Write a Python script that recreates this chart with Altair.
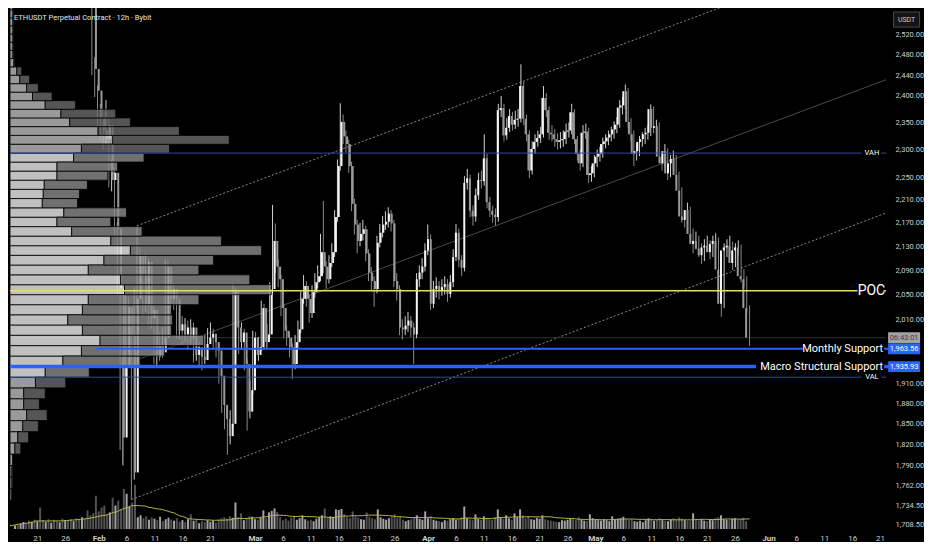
import altair as alt
import pandas as pd

FONT = "Roboto, 'Noto Sans', sans-serif"

# ---------------- values ----------------
START = "2026-01-17 00:00"      # open time of the first 12h bar (left edge of pane)
END = "2026-06-21 04:00"        # right edge of the price pane
FIRST_CANDLE = 28               # earlier bars trade above the visible price range
FIRST_OPEN = 2790
PRICE_MIN, PRICE_MAX = 1701.8, 2573.5
VOL_MAX = 5320
PROFILE_MAX = 895

closes = [
    2700, 2452, 2410, 2360, 2335, 2320, 2345, 2245, 2258, 2160,
    2060, 1830, 1935, 2030, 1985, 1780, 2043, 2115, 2083, 2032,
    2104, 2012, 2025, 1951, 1969, 1958, 1981, 2096, 2043, 2059,
    2043, 1992, 2002, 1986, 1997, 1981, 1997, 1954, 1966, 1951,
    1946, 1971, 1981, 1987, 1974, 1961, 1922, 1878, 1857, 1832,
    1850, 2056, 1997, 1974, 1989, 1940, 1868, 1900, 1981, 1954,
    1966, 2028, 1974, 1986, 2059, 2139, 2096, 2075, 2028, 1992,
    1981, 1966, 1940, 1974, 1994, 2043, 2064, 2043, 2020, 2054,
    2070, 2080, 2120, 2096, 2075, 2102, 2120, 2180, 2270, 2351,
    2324, 2310, 2270, 2203, 2167, 2139, 2151, 2159, 2118, 2086,
    2072, 2059, 2136, 2153, 2167, 2172, 2186, 2169, 2072, 2059,
    1997, 1994, 2000, 2008, 1997, 1986, 2075, 2086, 2096, 2123,
    2142, 2035, 2059, 2064, 2056, 2062, 2067, 2051, 2070, 2112,
    2153, 2107, 2094, 2240, 2248, 2191, 2181, 2218, 2245, 2243,
    2284, 2206, 2191, 2184, 2180, 2373, 2377, 2326, 2340, 2362,
    2346, 2355, 2357, 2419, 2357, 2328, 2262, 2301, 2314, 2321,
    2328, 2396, 2373, 2331, 2328, 2319, 2314, 2317, 2319, 2333,
    2335, 2369, 2319, 2292, 2275, 2331, 2333, 2254, 2257, 2275,
    2287, 2292, 2310, 2315, 2322, 2328, 2337, 2346, 2378, 2382,
    2409, 2351, 2328, 2292, 2297, 2314, 2319, 2328, 2331, 2375,
    2340, 2343, 2287, 2275, 2297, 2257, 2275, 2283, 2254, 2226,
    2181, 2175, 2192, 2151, 2134, 2139, 2126, 2115, 2128, 2131,
    2120, 2134, 2139, 2091, 2035, 2123, 2128, 2131, 2102, 2123,
    2128, 2080, 2075, 2028, 1981,
]
highs = [
    2810, 2715, 2475, 2420, 2385, 2352, 2392, 2360, 2282, 2266,
    2172, 2070, 1952, 2052, 2046, 1996, 2062, 2165, 2130, 2095,
    2118, 2110, 2045, 2033, 1985, 1990, 1998, 2108, 2105, 2080,
    2068, 2050, 2022, 2015, 2012, 2008, 2010, 2005, 1980, 1975,
    1962, 1985, 1996, 2005, 1995, 1985, 1968, 1930, 1890, 1868,
    1870, 2068, 2062, 2008, 2005, 1995, 1948, 1915, 1992, 1990,
    1982, 2040, 2035, 2002, 2070, 2201, 2169, 2108, 2082, 2035,
    2000, 1990, 1972, 1985, 2008, 2055, 2082, 2072, 2050, 2065,
    2085, 2098, 2151, 2208, 2105, 2115, 2135, 2192, 2282, 2386,
    2365, 2335, 2318, 2278, 2212, 2175, 2170, 2175, 2165, 2125,
    2095, 2080, 2148, 2168, 2182, 2190, 2197, 2192, 2175, 2085,
    2065, 2010, 2015, 2022, 2015, 2005, 2085, 2098, 2110, 2135,
    2167, 2150, 2072, 2078, 2072, 2075, 2080, 2075, 2082, 2125,
    2168, 2160, 2115, 2252, 2265, 2255, 2200, 2230, 2258, 2262,
    2328, 2292, 2215, 2200, 2195, 2385, 2400, 2385, 2358, 2375,
    2370, 2372, 2375, 2461, 2428, 2365, 2335, 2315, 2328, 2335,
    2342, 2419, 2405, 2380, 2345, 2338, 2330, 2332, 2335, 2348,
    2350, 2385, 2375, 2325, 2300, 2345, 2348, 2340, 2270, 2290,
    2300, 2305, 2322, 2328, 2335, 2342, 2352, 2360, 2392, 2398,
    2422, 2415, 2358, 2335, 2312, 2325, 2332, 2340, 2345, 2384,
    2380, 2355, 2350, 2295, 2310, 2302, 2290, 2298, 2290, 2260,
    2232, 2192, 2205, 2198, 2160, 2155, 2148, 2135, 2142, 2148,
    2140, 2148, 2152, 2145, 2098, 2135, 2142, 2148, 2138, 2135,
    2140, 2133, 2092, 2080, 2032,
]
lows = [
    2690, 2440, 2398, 2340, 2318, 2300, 2310, 2232, 2225, 2148,
    2048, 1812, 1790, 1918, 1958, 1742, 1770, 2030, 2065, 2015,
    2022, 1998, 1995, 1940, 1938, 1945, 1950, 1972, 2030, 2028,
    2025, 1980, 1978, 1970, 1975, 1962, 1970, 1942, 1945, 1938,
    1930, 1940, 1962, 1972, 1962, 1950, 1910, 1866, 1842, 1805,
    1820, 1845, 1985, 1955, 1962, 1930, 1840, 1858, 1895, 1942,
    1945, 1960, 1962, 1965, 1980, 2052, 2085, 2062, 2015, 1980,
    1968, 1950, 1917, 1932, 1965, 1988, 2035, 2030, 2005, 2012,
    2045, 2060, 2072, 2085, 2060, 2068, 2095, 2112, 2172, 2262,
    2310, 2295, 2258, 2190, 2150, 2118, 2130, 2140, 2105, 2072,
    2055, 2030, 2052, 2128, 2145, 2158, 2162, 2155, 2062, 2040,
    1985, 1978, 1985, 1990, 1982, 1940, 1980, 2062, 2075, 2088,
    2115, 2025, 2028, 2045, 2042, 2048, 2050, 2038, 2045, 2062,
    2105, 2095, 2080, 2088, 2228, 2180, 2165, 2172, 2210, 2230,
    2235, 2195, 2180, 2170, 2165, 2172, 2360, 2315, 2318, 2332,
    2335, 2338, 2342, 2350, 2345, 2315, 2248, 2255, 2292, 2305,
    2312, 2322, 2360, 2318, 2315, 2305, 2300, 2302, 2305, 2310,
    2322, 2328, 2310, 2280, 2262, 2268, 2320, 2240, 2242, 2250,
    2268, 2278, 2285, 2302, 2308, 2315, 2320, 2330, 2340, 2365,
    2375, 2340, 2315, 2270, 2280, 2288, 2305, 2310, 2318, 2325,
    2330, 2330, 2275, 2262, 2268, 2245, 2250, 2262, 2240, 2215,
    2170, 2162, 2168, 2140, 2118, 2125, 2112, 2100, 2105, 2120,
    2108, 2112, 2125, 2080, 2014, 2028, 2112, 2118, 2090, 2095,
    2115, 2070, 2062, 2020, 1968,
]
volume = [
    35, 40, 55, 70, 60, 85, 75, 95, 80, 220,
    90, 75, 100, 65, 95, 80, 70, 105, 90, 85,
    100, 80, 110, 95, 120, 105, 190, 140, 160, 340,
    180, 220, 240, 150, 170, 320, 240, 290, 200, 410,
    360, 230, 270, 450, 120, 140, 110, 130, 95, 120,
    105, 90, 125, 80, 100, 115, 95, 85, 110, 75,
    90, 70, 100, 150, 85, 95, 60, 80, 70, 90,
    75, 85, 65, 95, 110, 120, 105, 130, 115, 270,
    120, 160, 90, 110, 130, 125, 100, 95, 115, 190,
    110, 170, 185, 210, 175, 120, 90, 105, 85, 115,
    130, 95, 110, 140, 100, 85, 95, 80, 105, 120,
    140, 210, 110, 130, 125, 200, 195, 205, 150, 120,
    110, 180, 130, 115, 100, 95, 170, 125, 110, 100,
    200, 120, 105, 95, 110, 130, 150, 115, 125, 95,
    80, 90, 100, 115, 140, 105, 95, 180, 110, 130,
    95, 85, 80, 70, 90, 85, 100, 110, 95, 100,
    120, 230, 110, 100, 90, 150, 105, 95, 130, 110,
    100, 95, 120, 200, 115, 105, 140, 110, 95, 160,
    120, 200, 140, 110, 130, 100, 95, 115, 105, 140,
    100, 90, 85, 80, 75, 70, 90, 85, 95, 110,
    100, 90, 120, 95, 85, 80, 150, 110, 95, 90,
    85, 100, 90, 80, 130, 95, 105, 110, 125, 100,
    90, 95, 80, 75, 85, 70, 90, 110, 100, 85,
    95, 110, 90, 85, 80, 100, 110, 95, 120, 105,
    90, 85, 80, 160, 95, 90, 100, 85, 80, 95,
    90, 110, 120, 140, 100, 95, 90, 105, 110, 95,
    100, 115, 80,
]
early_up = [1, 0, 1, 1, 0, 0, 1, 0, 1, 0, 0, 1, 0, 1, 0, 0, 1, 0, 1, 0,
            0, 1, 0, 0, 1, 0, 0, 0]

# visible-range volume profile (price rows, up / total volume)
vp_edges = [
    1741.00, 1757.25, 1773.50, 1789.75, 1806.00, 1822.25, 1838.50, 1854.75,
    1871.00, 1887.25, 1903.50, 1919.75, 1936.00, 1952.25, 1968.50, 1984.75,
    2001.00, 2017.25, 2033.50, 2049.75, 2066.00, 2082.25, 2098.50, 2114.75,
    2131.00, 2147.25, 2163.50, 2179.75, 2196.00, 2212.25, 2228.50, 2244.75,
    2261.00, 2277.25, 2293.50, 2309.75, 2326.00, 2342.25, 2358.50, 2374.75,
    2391.00, 2407.25, 2423.50, 2439.75, 2456.00, 2472.25, 2488.50, 2504.75,
    2521.00, 2537.25, 2553.50, 2569.75, 2586.00,
]
vp_up = [2, 2, 2, 3, 5, 8, 13, 17, 14, 14, 26, 36, 54, 73, 92, 74, 59, 74, 80, 117,
         113, 80, 96, 123, 103, 63, 48, 55, 33, 34, 35, 48, 48, 65, 73, 105, 90, 61, 52, 36,
         23, 17, 10, 7, 4, 3, 3, 3, 3, 3, 3, 3]
vp_total = [2, 3, 3, 3, 11, 19, 29, 38, 30, 36, 57, 81, 133, 158, 198, 165, 166, 165, 193, 267,
            245, 193, 208, 257, 216, 135, 103, 119, 69, 71, 79, 100, 110, 137, 163, 224, 173, 123, 108, 67,
            43, 29, 20, 12, 5, 4, 4, 4, 4, 4, 4, 4]

VAL, VAH, POC = 1919.75, 2293.5, 2056.0
MONTHLY_SUPPORT, MACRO_SUPPORT = 1963.56, 1935.93

date_ticks = ["2026-01-21", "2026-01-26", "2026-02-01", "2026-02-06", "2026-02-11",
              "2026-02-16", "2026-02-21", "2026-03-01", "2026-03-06", "2026-03-11",
              "2026-03-16", "2026-03-21", "2026-03-26", "2026-04-01", "2026-04-06",
              "2026-04-11", "2026-04-16", "2026-04-21", "2026-04-26", "2026-05-01",
              "2026-05-06", "2026-05-11", "2026-05-16", "2026-05-21", "2026-05-26",
              "2026-06-01", "2026-06-06", "2026-06-11", "2026-06-16", "2026-06-21"]
price_ticks = [1708.5, 1734.5, 1762, 1790, 1820, 1850, 1880, 1910, 2010, 2050, 2090,
               2130, 2170, 2210, 2250, 2300, 2350, 2400, 2440, 2480, 2520]

# parallel channel (start point, end at the right edge)
channel_start = ["2026-02-08 12:00", "2026-02-09 01:00", "2026-02-07 12:00"]
channel_start_price = [2165, 1948, 1742]
channel_end_price = [2704, 2431, 2187]
channel_kind = ["outer", "mid", "outer"]


def ms(s):
    return int(pd.Timestamp(s, tz="UTC").value // 1_000_000)


times = pd.date_range(START, periods=len(volume), freq="12h", tz="UTC")
t_ms = [int(v // 1_000_000) for v in times.asi8]

opens = [FIRST_OPEN] + closes[:-1]
cdf = pd.DataFrame({"t": t_ms[FIRST_CANDLE:], "open": opens, "close": closes,
                    "high": highs, "low": lows})
vdf = pd.DataFrame({"t": t_ms, "vol": volume,
                    "up": early_up + [int(c >= o) for o, c in zip(opens, closes)]})
vp = pd.DataFrame({"lo": vp_edges[:-1], "hi": vp_edges[1:], "up": vp_up, "total": vp_total})
vp["zero"] = 0
vp["inva"] = ((vp.lo >= VAL - 0.01) & (vp.hi <= VAH + 0.01)).astype(int)

chan = pd.DataFrame({"t1": [ms(s) for s in channel_start], "p1": channel_start_price,
                     "t2": ms(END), "p2": channel_end_price, "kind": channel_kind})

BLUE = "#2962ff"
VA_BLUE = "#2b4aa6"
YEL = "#e8df5c"
levels = pd.DataFrame([
    (START, "2026-06-16 20:00", VAH, VA_BLUE, 1.0),
    ("2026-06-20 07:00", END, VAH, VA_BLUE, 1.0),
    (START, "2026-06-16 20:00", VAL, VA_BLUE, 1.0),
    ("2026-06-20 07:00", END, VAL, VA_BLUE, 1.0),
    (START, "2026-06-16 03:00", POC, YEL, 1.5),
    ("2026-06-20 18:00", END, POC, YEL, 1.5),
    ("2026-02-01 06:00", "2026-06-06 10:00", MONTHLY_SUPPORT, BLUE, 2.0),
    ("2026-06-20 20:00", "2026-06-22 00:00", MONTHLY_SUPPORT, BLUE, 2.0),
    (START, "2026-05-29 03:00", MACRO_SUPPORT, BLUE, 3.5),
    ("2026-06-20 20:00", "2026-06-22 00:00", MACRO_SUPPORT, BLUE, 3.5),
], columns=["s", "e", "p", "c", "w"])
levels["t1"] = levels.s.map(ms)
levels["t2"] = levels.e.map(ms)
levels = levels.drop(columns=["s", "e"])

last_line = pd.DataFrame({"t1": [ms(START)], "t2": [ms(END)], "p": [closes[-1]]})

center_txt = pd.DataFrame({"t": [ms("2026-06-18 14:00"), ms("2026-06-18 16:00"), ms("2026-06-18 16:00")],
                           "p": [POC, VAH, VAL], "label": ["POC", "VAH", "VAL"], "size": [14, 7.5, 7.5]})
right_txt = pd.DataFrame({"t": [ms("2026-06-20 16:00")] * 2, "p": [MONTHLY_SUPPORT, MACRO_SUPPORT],
                          "label": ["Monthly Support", "Macro Structural Support"]})
boxes = pd.DataFrame({"t": [ms("2026-06-24 09:00")] * 3,
                      "p": [closes[-1], MONTHLY_SUPPORT, MACRO_SUPPORT],
                      "fill": ["#a3a3a3", BLUE, BLUE],
                      "tc": ["#3a3a3a", "#ffffff", "#ffffff"],
                      "label": ["06:43:01", "1,963.56", "1,935.93"]})
usdt = pd.DataFrame({"t": [ms("2026-06-24 19:30")], "p": [2550.0], "label": ["USDT"]})
title = pd.DataFrame({"t": [ms(START)], "p": [2553.0],
                      "label": ["ETHUSDT Perpetual Contract · 12h · Bybit"]})

# ---------------- scales ----------------
xs = alt.Scale(domain=[ms(START), ms(END)], nice=False, zero=False)
ys = alt.Scale(type="log", domain=[PRICE_MIN, PRICE_MAX], nice=False)
vs = alt.Scale(domain=[0, VOL_MAX], nice=False, zero=True)
ps = alt.Scale(domain=[0, PROFILE_MAX], nice=False, zero=True)

x_axis = alt.Axis(
    values=[ms(d) for d in date_ticks],
    labelExpr="utcdate(datum.value) == 1 ? utcFormat(datum.value, '%b') : utcFormat(datum.value, '%-d')",
    title=None, grid=False, domain=False, ticks=False, labelColor="#cfcfcf",
    labelFontSize=8, labelFont=FONT, labelPadding=5, labelOverlap=False, labelFlush=False,
    labelFontWeight={"condition": {"test": "utcdate(datum.value) == 1", "value": "bold"}, "value": "normal"},
)
y_axis = alt.Axis(
    orient="right", values=price_ticks, format=",.2f", title=None, grid=False, domain=False,
    ticks=False, labelColor="#cfcfcf", labelFontSize=7.5, labelFont=FONT, labelPadding=9,
    labelOverlap=False,
)


def X(f):
    return alt.X(f, type="quantitative", scale=xs, axis=None)


def Y(f):
    return alt.Y(f, type="quantitative", scale=ys, axis=None)


up_test = "datum.close >= datum.open"

vol_bars = alt.Chart(vdf).mark_bar(size=2).encode(
    x=X("t"),
    y=alt.Y("vol:Q", scale=vs, axis=None),
    color=alt.condition("datum.up == 1", alt.value("#a4a4a4"), alt.value("#525252")),
)
vol_ma = alt.Chart(vdf).transform_window(
    ma="mean(vol)", frame=[-19, 0], sort=[alt.SortField("t")]
).mark_line(color="#b4b845", strokeWidth=1).encode(
    x=X("t"), y=alt.Y("ma:Q", scale=vs, axis=None)
)

chan_outer = alt.Chart(chan).transform_filter("datum.kind == 'outer'").mark_rule(
    color="#8a8a8a", strokeWidth=1, strokeDash=[2, 2], clip=True
).encode(x=X("t1"), x2="t2", y=Y("p1"), y2="p2")
chan_mid = alt.Chart(chan).transform_filter("datum.kind == 'mid'").mark_rule(
    color="#4a4a4a", strokeWidth=1, clip=True
).encode(x=X("t1"), x2="t2", y=Y("p1"), y2="p2")

last_rule = alt.Chart(last_line).mark_rule(color="#303030", strokeWidth=1).encode(
    x=X("t1"), x2="t2", y=Y("p"))

wicks = alt.Chart(cdf).mark_rule(strokeWidth=1, clip=True).encode(
    x=X("t"), y=Y("low"), y2="high",
    color=alt.condition(up_test, alt.value("#cfcfcf"), alt.value("#8a8a8a")),
)
bodies = alt.Chart(cdf).mark_bar(size=2, clip=True).encode(
    x=alt.X("t:Q", scale=xs, axis=x_axis),
    y=alt.Y("open:Q", scale=ys, axis=y_axis),
    y2="close:Q",
    color=alt.condition(up_test, alt.value("#f4f4f4"), alt.value("#9a9a9a")),
)

prof_light = alt.Chart(vp).mark_rect(fillOpacity=0.8, stroke="#000000", strokeWidth=0.8, clip=True).encode(
    x=alt.X("zero:Q", scale=ps, axis=None), x2="up:Q",
    y=Y("lo"), y2="hi:Q",
    color=alt.condition("datum.inva == 1", alt.value("#f0f0f0"), alt.value("#c0c0c0")),
)
prof_dark = alt.Chart(vp).mark_rect(fillOpacity=0.8, stroke="#000000", strokeWidth=0.8, clip=True).encode(
    x=alt.X("up:Q", scale=ps, axis=None), x2="total:Q",
    y=Y("lo"), y2="hi:Q",
    color=alt.condition("datum.inva == 1", alt.value("#8c8c8c"), alt.value("#6a6a6a")),
)

level_rules = alt.Chart(levels).mark_rule().encode(
    x=X("t1"), x2="t2", y=Y("p"),
    color=alt.Color("c:N", scale=None),
    strokeWidth=alt.StrokeWidth("w:Q", scale=None),
)

txt_center = alt.Chart(center_txt).mark_text(
    align="center", baseline="middle", font=FONT, color="#ffffff"
).encode(x=X("t"), y=Y("p"), text="label:N", size=alt.Size("size:Q", scale=None))
txt_right = alt.Chart(right_txt).mark_text(
    align="right", baseline="middle", font=FONT, color="#ffffff", fontSize=11
).encode(x=X("t"), y=Y("p"), text="label:N")

box_marks = alt.Chart(boxes).mark_point(
    shape="M-1,-0.34H1V0.34H-1Z", size=1024, filled=True, opacity=1, strokeWidth=0
).encode(x=X("t"), y=Y("p"), color=alt.Color("fill:N", scale=None))
box_text = alt.Chart(boxes).mark_text(
    align="center", baseline="middle", font=FONT, fontSize=7.5
).encode(x=X("t"), y=Y("p"), text="label:N", color=alt.Color("tc:N", scale=None))

usdt_box = alt.Chart(usdt).mark_point(
    shape="M-1,-0.58H1V0.58H-1Z", size=676, filled=True, opacity=1,
    fill="#141414", stroke="#4a4a4a", strokeWidth=1
).encode(x=X("t"), y=Y("p"))
usdt_text = alt.Chart(usdt).mark_text(
    align="center", baseline="middle", font=FONT, fontSize=7, color="#cfcfcf"
).encode(x=X("t"), y=Y("p"), text="label:N")

title_text = alt.Chart(title).mark_text(
    align="left", baseline="middle", font=FONT, fontSize=7.5, color="#e6e6e6", dx=4
).encode(x=X("t"), y=Y("p"), text="label:N")

chart = alt.layer(
    vol_bars, vol_ma, chan_outer, chan_mid, last_rule, wicks, bodies,
    prof_light, prof_dark, level_rules, txt_center, txt_right,
    box_marks, box_text, usdt_box, usdt_text, title_text,
).resolve_scale(
    x="independent", y="independent"
).properties(
    width=916, height=534,
    autosize=alt.AutoSizeParams(type="fit", contains="padding"),
    padding=0, background="#000000",
).configure_view(stroke=None)

chart.save("out.html", embed_options={"renderer": "svg", "actions": False})
